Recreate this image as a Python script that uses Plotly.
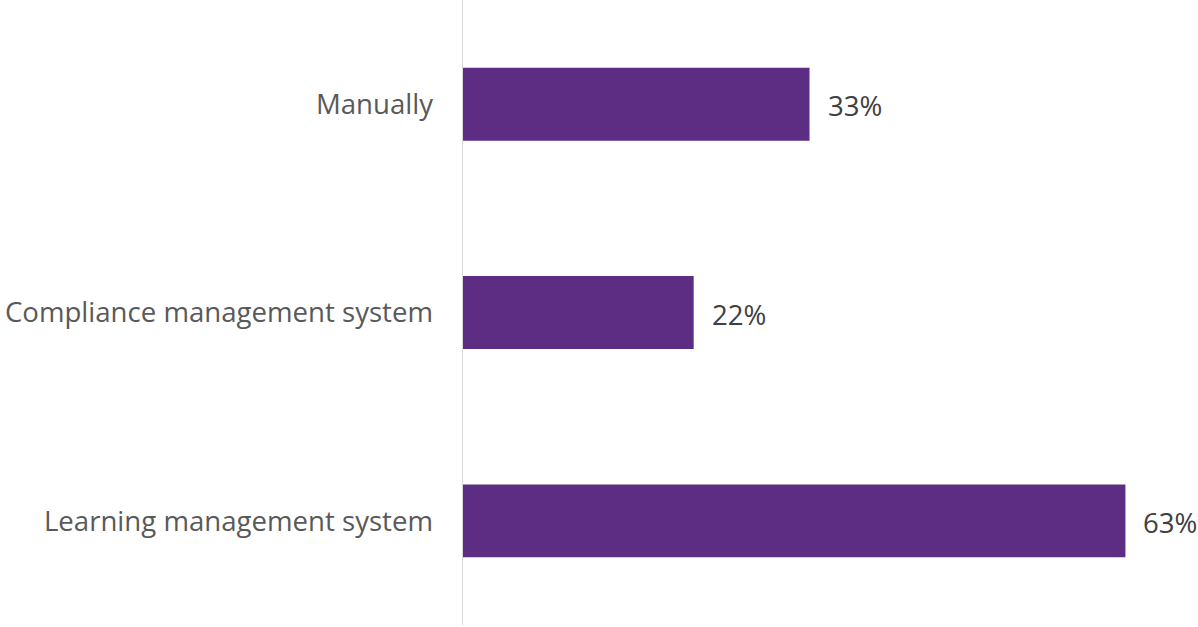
import plotly.graph_objects as go

categories = ["Manually", "Compliance management system", "Learning management system"]
values = [0.33, 0.22, 0.63]
labels = ["33%", "22%", "63%"]

bar_color = "#5C2D82"
FONT = "Open Sans"

fig = go.Figure()
fig.add_trace(go.Bar(
    y=categories, x=values, orientation="h",
    marker=dict(color=bar_color, line=dict(width=0)),
    width=0.35,
    hoverinfo="skip",
))
for c, v, t in zip(categories, values, labels):
    fig.add_annotation(x=v, y=c, text=t, showarrow=False, xanchor="left",
                       xshift=16, yshift=-1,
                       font=dict(family=FONT, size=27.6, color="#404040"))

fig.update_layout(
    width=1198, height=627,
    margin=dict(l=462, r=2, t=0, b=2),
    plot_bgcolor="white", paper_bgcolor="white",
    showlegend=False,
    font=dict(family=FONT, size=27.6, color="#595959"),
    xaxis=dict(range=[0, 0.697], showgrid=False, zeroline=False, showticklabels=False,
               showline=False, ticks=""),
    yaxis=dict(categoryorder="array", categoryarray=categories, autorange="reversed",
               showgrid=False, zeroline=False, showline=False, ticks="",
               ticklabelstandoff=28,
               tickfont=dict(family=FONT, size=27.6, color="#595959")),
    shapes=[dict(type="line", xref="x", yref="paper", x0=0, x1=0, y0=0, y1=1,
                 line=dict(color="#D9D9D9", width=2))],
)
fig.write_html("out.html", config={"displayModeBar": False},
               post_script="document.body.style.margin='0';")
